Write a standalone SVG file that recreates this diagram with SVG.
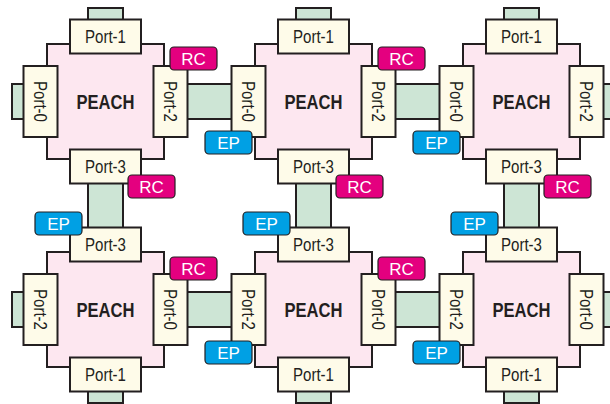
<svg xmlns="http://www.w3.org/2000/svg" width="610" height="404" viewBox="0 0 610 404">
<style>
.sq{fill:#fde7f0;stroke:#231f20;stroke-width:2}
.pt{fill:#fefbe9;stroke:#231f20;stroke-width:2}
.ln{fill:#cde5d5;stroke:#231f20;stroke-width:2}
.pl{font-family:"Liberation Sans",Arial,sans-serif;font-size:18px;fill:#231f20;text-anchor:middle}
.nm{font-family:"Liberation Sans",Arial,sans-serif;font-size:21px;font-weight:bold;fill:#231f20;text-anchor:middle}
.rc{fill:#e4007f;stroke:#231f20;stroke-width:1.2}
.ep{fill:#00a0e4;stroke:#231f20;stroke-width:1.2}
.bt{font-family:"Liberation Sans",Arial,sans-serif;font-size:17px;fill:#ffffff;text-anchor:middle}
</style>
<defs>
<g id="sqshape"><rect class="sq" x="-58.5" y="-57.5" width="117" height="115"/></g>
</defs>
<g id="connectors">
<rect class="ln" x="88" y="8" width="35" height="14"/>
<rect class="ln" x="296" y="8" width="35" height="14"/>
<rect class="ln" x="504" y="8" width="35" height="14"/>
<rect class="ln" x="12" y="84" width="14" height="35"/>
<rect class="ln" x="12" y="292" width="14" height="35"/>
<rect class="ln" x="598" y="84" width="16" height="35"/>
<rect class="ln" x="598" y="292" width="16" height="35"/>
<rect class="ln" x="180" y="84" width="58" height="35"/>
<rect class="ln" x="388" y="84" width="58" height="35"/>
<rect class="ln" x="180" y="292" width="58" height="35"/>
<rect class="ln" x="388" y="292" width="58" height="35"/>
<rect class="ln" x="88" y="178" width="35" height="55"/>
<rect class="ln" x="296" y="178" width="35" height="55"/>
<rect class="ln" x="504" y="178" width="35" height="55"/>
<rect class="ln" x="88" y="386" width="35" height="17"/>
<rect class="ln" x="296" y="386" width="35" height="17"/>
<rect class="ln" x="504" y="386" width="35" height="17"/>
</g>
<g id="node1" transform="translate(105.5,101.5)">
<use href="#sqshape"/>
<rect class="pt" x="-35.5" y="-82" width="71" height="34"/><text class="pl" x="0" y="-58.5" textLength="41" lengthAdjust="spacingAndGlyphs">Port-1</text>
<rect class="pt" x="-35.5" y="48" width="71" height="34"/><text class="pl" x="0" y="71.5" textLength="41" lengthAdjust="spacingAndGlyphs">Port-3</text>
<rect class="pt" x="-82" y="-35.5" width="34" height="71"/><text class="pl" transform="translate(-65,0) rotate(90)" x="0" y="6.5" textLength="41" lengthAdjust="spacingAndGlyphs">Port-0</text>
<rect class="pt" x="48" y="-35.5" width="34" height="71"/><text class="pl" transform="translate(65,0) rotate(90)" x="0" y="6.5" textLength="41" lengthAdjust="spacingAndGlyphs">Port-2</text>
<text class="nm" x="0" y="7.5" textLength="58" lengthAdjust="spacingAndGlyphs">PEACH</text>
</g>
<g id="node2" transform="translate(313.5,101.5)">
<use href="#sqshape"/>
<rect class="pt" x="-35.5" y="-82" width="71" height="34"/><text class="pl" x="0" y="-58.5" textLength="41" lengthAdjust="spacingAndGlyphs">Port-1</text>
<rect class="pt" x="-35.5" y="48" width="71" height="34"/><text class="pl" x="0" y="71.5" textLength="41" lengthAdjust="spacingAndGlyphs">Port-3</text>
<rect class="pt" x="-82" y="-35.5" width="34" height="71"/><text class="pl" transform="translate(-65,0) rotate(90)" x="0" y="6.5" textLength="41" lengthAdjust="spacingAndGlyphs">Port-0</text>
<rect class="pt" x="48" y="-35.5" width="34" height="71"/><text class="pl" transform="translate(65,0) rotate(90)" x="0" y="6.5" textLength="41" lengthAdjust="spacingAndGlyphs">Port-2</text>
<text class="nm" x="0" y="7.5" textLength="58" lengthAdjust="spacingAndGlyphs">PEACH</text>
</g>
<g id="node3" transform="translate(521.5,101.5)">
<use href="#sqshape"/>
<rect class="pt" x="-35.5" y="-82" width="71" height="34"/><text class="pl" x="0" y="-58.5" textLength="41" lengthAdjust="spacingAndGlyphs">Port-1</text>
<rect class="pt" x="-35.5" y="48" width="71" height="34"/><text class="pl" x="0" y="71.5" textLength="41" lengthAdjust="spacingAndGlyphs">Port-3</text>
<rect class="pt" x="-82" y="-35.5" width="34" height="71"/><text class="pl" transform="translate(-65,0) rotate(90)" x="0" y="6.5" textLength="41" lengthAdjust="spacingAndGlyphs">Port-0</text>
<rect class="pt" x="48" y="-35.5" width="34" height="71"/><text class="pl" transform="translate(65,0) rotate(90)" x="0" y="6.5" textLength="41" lengthAdjust="spacingAndGlyphs">Port-2</text>
<text class="nm" x="0" y="7.5" textLength="58" lengthAdjust="spacingAndGlyphs">PEACH</text>
</g>
<g id="node4" transform="translate(105.5,309.5)">
<use href="#sqshape"/>
<rect class="pt" x="-35.5" y="-82" width="71" height="34"/><text class="pl" x="0" y="-58.5" textLength="41" lengthAdjust="spacingAndGlyphs">Port-3</text>
<rect class="pt" x="-35.5" y="48" width="71" height="34"/><text class="pl" x="0" y="71.5" textLength="41" lengthAdjust="spacingAndGlyphs">Port-1</text>
<rect class="pt" x="-82" y="-35.5" width="34" height="71"/><text class="pl" transform="translate(-65,0) rotate(90)" x="0" y="6.5" textLength="41" lengthAdjust="spacingAndGlyphs">Port-2</text>
<rect class="pt" x="48" y="-35.5" width="34" height="71"/><text class="pl" transform="translate(65,0) rotate(90)" x="0" y="6.5" textLength="41" lengthAdjust="spacingAndGlyphs">Port-0</text>
<text class="nm" x="0" y="7.5" textLength="58" lengthAdjust="spacingAndGlyphs">PEACH</text>
</g>
<g id="node5" transform="translate(313.5,309.5)">
<use href="#sqshape"/>
<rect class="pt" x="-35.5" y="-82" width="71" height="34"/><text class="pl" x="0" y="-58.5" textLength="41" lengthAdjust="spacingAndGlyphs">Port-3</text>
<rect class="pt" x="-35.5" y="48" width="71" height="34"/><text class="pl" x="0" y="71.5" textLength="41" lengthAdjust="spacingAndGlyphs">Port-1</text>
<rect class="pt" x="-82" y="-35.5" width="34" height="71"/><text class="pl" transform="translate(-65,0) rotate(90)" x="0" y="6.5" textLength="41" lengthAdjust="spacingAndGlyphs">Port-2</text>
<rect class="pt" x="48" y="-35.5" width="34" height="71"/><text class="pl" transform="translate(65,0) rotate(90)" x="0" y="6.5" textLength="41" lengthAdjust="spacingAndGlyphs">Port-0</text>
<text class="nm" x="0" y="7.5" textLength="58" lengthAdjust="spacingAndGlyphs">PEACH</text>
</g>
<g id="node6" transform="translate(521.5,309.5)">
<use href="#sqshape"/>
<rect class="pt" x="-35.5" y="-82" width="71" height="34"/><text class="pl" x="0" y="-58.5" textLength="41" lengthAdjust="spacingAndGlyphs">Port-3</text>
<rect class="pt" x="-35.5" y="48" width="71" height="34"/><text class="pl" x="0" y="71.5" textLength="41" lengthAdjust="spacingAndGlyphs">Port-1</text>
<rect class="pt" x="-82" y="-35.5" width="34" height="71"/><text class="pl" transform="translate(-65,0) rotate(90)" x="0" y="6.5" textLength="41" lengthAdjust="spacingAndGlyphs">Port-2</text>
<rect class="pt" x="48" y="-35.5" width="34" height="71"/><text class="pl" transform="translate(65,0) rotate(90)" x="0" y="6.5" textLength="41" lengthAdjust="spacingAndGlyphs">Port-0</text>
<text class="nm" x="0" y="7.5" textLength="58" lengthAdjust="spacingAndGlyphs">PEACH</text>
</g>
<g id="badges">
<rect class="rc" x="170" y="47" width="47" height="23" rx="4"/><text class="bt" x="193.5" y="64.5">RC</text>
<rect class="rc" x="378" y="47" width="47" height="23" rx="4"/><text class="bt" x="401.5" y="64.5">RC</text>
<rect class="rc" x="128" y="175" width="47" height="23" rx="4"/><text class="bt" x="151.5" y="192.5">RC</text>
<rect class="rc" x="336" y="175" width="47" height="23" rx="4"/><text class="bt" x="359.5" y="192.5">RC</text>
<rect class="rc" x="544" y="175" width="47" height="23" rx="4"/><text class="bt" x="567.5" y="192.5">RC</text>
<rect class="rc" x="170" y="257" width="47" height="23" rx="4"/><text class="bt" x="193.5" y="274.5">RC</text>
<rect class="rc" x="378" y="257" width="47" height="23" rx="4"/><text class="bt" x="401.5" y="274.5">RC</text>
<rect class="ep" x="205" y="131" width="47" height="23" rx="4"/><text class="bt" x="228.5" y="148.5">EP</text>
<rect class="ep" x="413" y="131" width="47" height="23" rx="4"/><text class="bt" x="436.5" y="148.5">EP</text>
<rect class="ep" x="35" y="212" width="47" height="23" rx="4"/><text class="bt" x="58.5" y="229.5">EP</text>
<rect class="ep" x="243" y="212" width="47" height="23" rx="4"/><text class="bt" x="266.5" y="229.5">EP</text>
<rect class="ep" x="451" y="212" width="47" height="23" rx="4"/><text class="bt" x="474.5" y="229.5">EP</text>
<rect class="ep" x="205" y="341" width="47" height="23" rx="4"/><text class="bt" x="228.5" y="358.5">EP</text>
<rect class="ep" x="413" y="341" width="47" height="23" rx="4"/><text class="bt" x="436.5" y="358.5">EP</text>
</g>
</svg>
